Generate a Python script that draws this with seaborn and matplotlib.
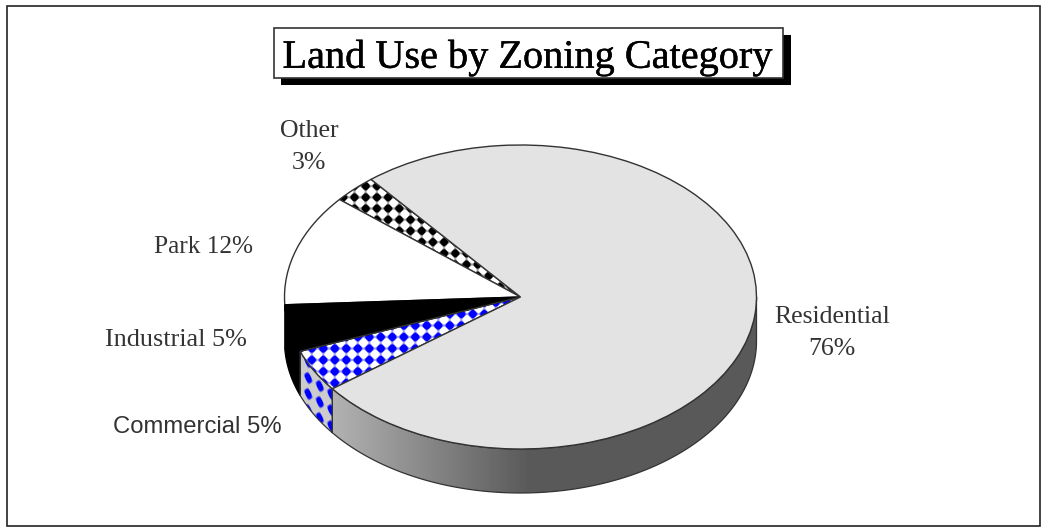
# -*- coding:utf-8 -*-

import numpy as np
import pandas as pd
import matplotlib.pyplot as plt
import matplotlib.patheffects as pe
from matplotlib.patches import Polygon, Rectangle
import seaborn as sns

# Data
categories = ['Other', 'Park', 'Industrial', 'Commercial', 'Residential']
shares = [3, 11.9, 5, 4.5, 75.6]
label_texts = ['Other\n3%', 'Park 12%', 'Industrial 5%', 'Commercial 5%', 'Residential\n76%']
slice_colors = sns.color_palette(['#ffffff', '#ffffff', '#000000', '#ffffff', '#e3e3e3'])
df = pd.DataFrame({'category': categories, 'share': shares})

W, H = 1046, 529
CX, CY, RX, RY = 520.5, 297.0, 236.0, 152.0
DEPTH = 44 / RY
START = 129.3

sns.set_theme(style='white')
plt.rcParams['font.family'] = ['Liberation Serif', 'DejaVu Serif']

fig = plt.figure(figsize=(W / 100, H / 100), dpi=100, facecolor='white')

# pixel layer for frame, title and labels
page = fig.add_axes([0, 0, 1, 1])
page.set_xlim(0, W)
page.set_ylim(H, 0)
page.axis('off')
page.add_patch(Rectangle((7, 6), 1033, 520, fc='white', ec='#222222', lw=1.2))
page.add_patch(Rectangle((281, 35), 510, 50, fc='black', ec='black', lw=0))
page.add_patch(Rectangle((274, 28), 509, 50, fc='white', ec='#333333', lw=1.2, zorder=3))
title = page.text(527.5, 58, 'Land Use by Zoning Category', ha='center', va='center',
                  fontsize=29, color='#000000', zorder=4)
title.set_path_effects([pe.withStroke(linewidth=0.3, foreground='black')])

# pie axes: one data unit is the pie radius, squashed to an ellipse
ax = fig.add_axes([0, 0, 1, 1], facecolor='none')
wedges, _ = ax.pie(df['share'], colors=slice_colors, startangle=START, frame=True,
                   wedgeprops={'edgecolor': '#333333', 'linewidth': 1.0})
lims = ((0 - CX) / RX, (W - CX) / RX, (CY - H) / RY, CY / RY)
ax.set_aspect('auto')
ax.set_xlim(lims[0], lims[1])
ax.set_ylim(lims[2], lims[3])
ax.axis('off')

X, Y = np.meshgrid(np.arange(W) + .5, np.arange(H) + .5)


def checks(x0, y0, px, py, shear=0.0, level=0.35):
    v = np.cos(2 * np.pi * (X - x0) / px) + np.cos(2 * np.pi * (Y - y0 - shear * (X - x0)) / py)
    return np.clip(v * 1.1 + level, 0, 1)


def show_texture(values, cmap, vmin, vmax, clip, z):
    im = ax.imshow(values, cmap=cmap, vmin=vmin, vmax=vmax, extent=lims, origin='upper',
                   aspect='auto', interpolation='bilinear', zorder=z)
    im.set_clip_path(clip)
    ax.set_xlim(lims[0], lims[1])
    ax.set_ylim(lims[2], lims[3])


def wall(wedge, fc, ec='#333333'):
    # side of the slice, only the part facing the viewer
    a = max(wedge.theta1, 180)
    b = min(wedge.theta2, 360)
    t = np.radians(np.linspace(a, b, 100))
    xs = np.r_[np.cos(t), np.cos(t)[::-1]]
    ys = np.r_[np.sin(t) - DEPTH, np.sin(t)[::-1]]
    p = Polygon(np.c_[xs, ys], closed=True, fc=fc, ec=ec, lw=0.9, zorder=2)
    ax.add_patch(p)
    return p


for w in wedges:
    w.set_zorder(3)

w_other, w_park, w_ind, w_com, w_res = wedges
w_ind.set_edgecolor('black')

wall(w_ind, 'black', ec='black')
res_wall = wall(w_res, 'none')
com_wall = wall(w_com, 'none')

# gradient on the residential side
shade = np.interp(X, [331, 530], [0.70, 0.35])
show_texture(shade, 'gray', 0, 1, res_wall, 1.5)

# blue checks on the commercial side
blue = sns.blend_palette(['#cccccc', '#0000ff'], as_cmap=True)
show_texture(checks(308.3, 378, 11.5, 16, shear=0.7, level=-0.1), blue, 0, 1, com_wall, 1.5)

# checks on the top faces
top_blue = sns.blend_palette(['#ffffff', '#0000ff'], as_cmap=True)
top_black = sns.blend_palette(['#ffffff', '#000000'], as_cmap=True)
w_com.set_facecolor('none')
w_other.set_facecolor('none')
show_texture(checks(323.3, 360, 11.5, 11.5), top_blue, 0, 1, w_com, 2.5)
show_texture(checks(365.7, 197.3, 11.2, 11.2), top_black, 0, 1, w_other, 2.5)

# Labels
for txt, x, y in [(label_texts[4], 832, 333), (label_texts[0], 309, 147)]:
    page.text(x, y, txt, ha='center', va='center', fontsize=18.5, color='#333333',
              linespacing=1.55, zorder=5)
page.text(203.5, 247, label_texts[1], ha='center', va='center', fontsize=18.2, color='#333333')
page.text(175.5, 340, label_texts[2], ha='center', va='center', fontsize=18.8, color='#333333')
page.text(197, 427, label_texts[3], ha='center', va='center', fontsize=17.2, color='#333333',
          family='Liberation Sans')

plt.savefig('out.png', dpi=100)
